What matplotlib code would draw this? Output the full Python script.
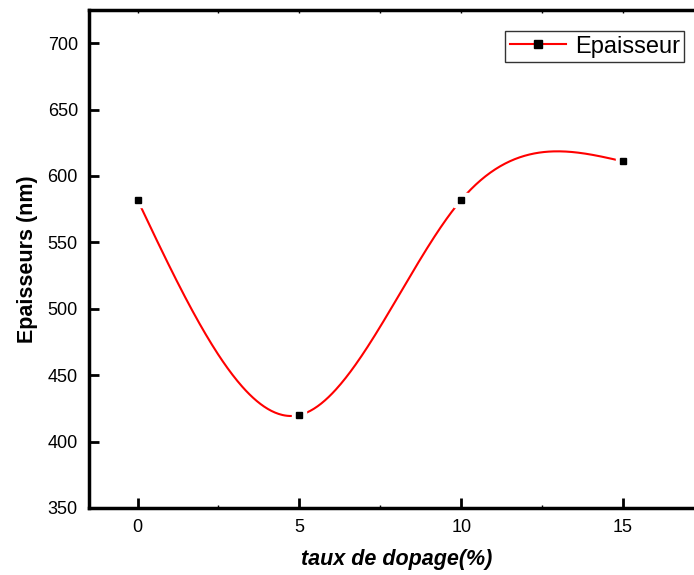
import numpy as np
import matplotlib
matplotlib.use("Agg")
import matplotlib.pyplot as plt

# Thickness measurements versus doping rate
doping = [0, 5, 10, 15]
thickness = [582, 420, 582, 611]
series_label = "Epaisseur"
xticks = [0, 5, 10, 15]
yticks = [350, 400, 450, 500, 550, 600, 650, 700]


def natural_spline(x, y, xs):
    x = np.asarray(x, float)
    y = np.asarray(y, float)
    n = len(x)
    h = np.diff(x)
    A = np.zeros((n, n))
    b = np.zeros(n)
    A[0, 0] = A[-1, -1] = 1.0
    for i in range(1, n - 1):
        A[i, i - 1] = h[i - 1]
        A[i, i] = 2 * (h[i - 1] + h[i])
        A[i, i + 1] = h[i]
        b[i] = 3 * ((y[i + 1] - y[i]) / h[i] - (y[i] - y[i - 1]) / h[i - 1])
    c = np.linalg.solve(A, b)
    out = np.empty_like(xs)
    for k, xv in enumerate(xs):
        i = min(max(np.searchsorted(x, xv) - 1, 0), n - 2)
        dx = xv - x[i]
        bi = (y[i + 1] - y[i]) / h[i] - h[i] * (2 * c[i] + c[i + 1]) / 3
        di = (c[i + 1] - c[i]) / (3 * h[i])
        out[k] = y[i] + bi * dx + c[i] * dx ** 2 + di * dx ** 3
    return out


plt.rcParams["font.family"] = ["Liberation Sans", "DejaVu Sans"]

fig = plt.figure(figsize=(6.94, 5.75), dpi=100)
ax = fig.add_axes([89 / 694, 67 / 575, (704 - 89) / 694, 498 / 575])

xs = np.linspace(doping[0], doping[-1], 400)
ys = natural_spline(doping, thickness, xs)
ax.plot(xs, ys, color="red", lw=1.5, zorder=2)
# white halo around the markers leaves a small gap in the curve
ax.plot(doping, thickness, ls="none", marker="s", ms=10, color="white",
        mec="white", zorder=3)
ax.plot(doping, thickness, ls="none", marker="s", ms=5, color="black",
        mec="black", zorder=4)

# legend proxy
ax.plot([], [], color="red", lw=1.5, marker="s", ms=6, mfc="black",
        mec="black", label=series_label)

ax.set_xlim(-1.5, 17.5)
ax.set_ylim(350, 725)
ax.set_xticks(xticks)
ax.set_yticks(yticks)
ax.set_xticks([2.5, 7.5, 12.5, 17.5], minor=True)
ax.tick_params(axis="both", which="major", direction="in", length=7, width=2,
               labelsize=13, pad=8, right=False)
ax.tick_params(axis="x", which="major", top=True)
ax.tick_params(axis="x", which="minor", direction="in", length=2, width=1,
               top=True)
ax.tick_params(axis="y", which="minor", left=False)
for s in ax.spines.values():
    s.set_linewidth(2.5)
# top-edge ticks are only faint marks
for t in ax.xaxis.get_major_ticks():
    t.tick2line.set_markersize(2)
    t.tick2line.set_markeredgewidth(1)

ax.set_xlabel("taux de dopage(%)", fontsize=15.5, fontweight="bold",
              fontstyle="italic", labelpad=9)
ax.set_ylabel("Epaisseurs (nm)", fontsize=15.5, fontweight="bold", labelpad=7)

leg = ax.legend(loc="upper left",
                bbox_to_anchor=((505 - 89) / 615, (508 - 31) / 498),
                fontsize=17, frameon=True, fancybox=False, edgecolor="black",
                handlelength=2.4, borderpad=0.2, handletextpad=0.35,
                borderaxespad=0)
leg.get_frame().set_linewidth(1.0)

fig.savefig("out.png", dpi=100)
